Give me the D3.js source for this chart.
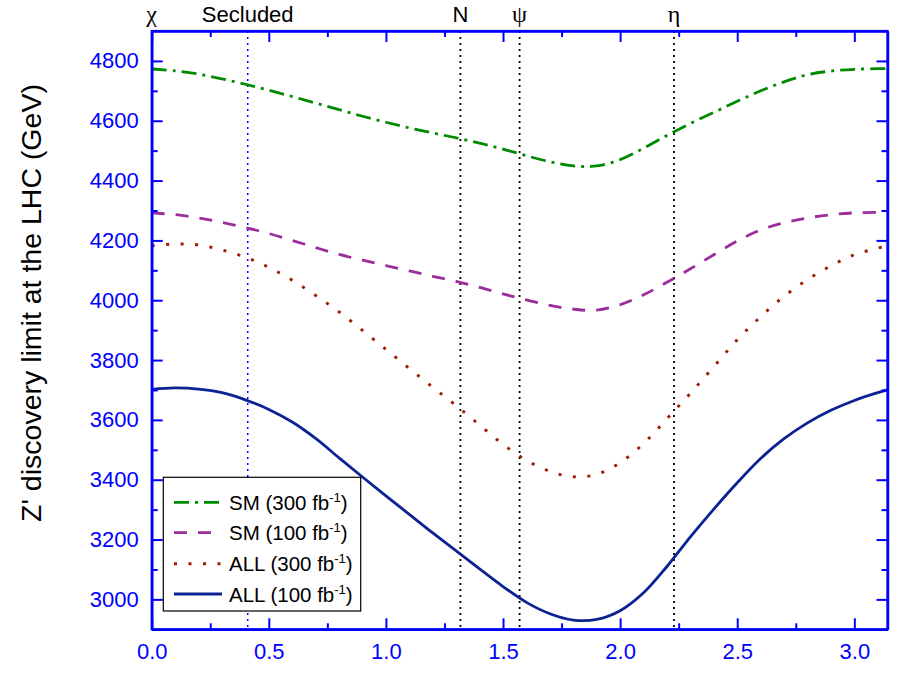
<!DOCTYPE html>
<html>
<head>
<meta charset="utf-8">
<script src="https://cdn.jsdelivr.net/npm/d3@7"></script>
<style>
  html, body { margin: 0; padding: 0; background: #ffffff; }
  svg { display: block; font-family: "Liberation Sans", Arial, Helvetica, sans-serif; }
</style>
</head>
<body>
<svg id="chart" width="909" height="679"></svg>
<script>
// Mixing angle theta (rad) sampled along the E6 family
const theta = [0, 0.1, 0.2, 0.3, 0.4, 0.5, 0.6, 0.7, 0.8, 0.9, 1.0, 1.1, 1.2, 1.3, 1.4, 1.5, 1.6,
               1.7, 1.8, 1.9, 2.0, 2.1, 2.2, 2.3, 2.4, 2.5, 2.6, 2.7, 2.8, 2.9, 3.0, 3.1, 3.14159];

// Discovery reach (GeV) for each scenario
const sm300 = [4773, 4767, 4756, 4740, 4722, 4702, 4681, 4659, 4637, 4615, 4595, 4576, 4559, 4543, 4525, 4505, 4483,
               4463, 4449, 4449, 4470, 4508, 4551, 4591, 4628, 4665, 4700, 4730, 4754, 4766, 4772, 4774, 4774];
const sm100 = [4292, 4286, 4275, 4260, 4243, 4223, 4200, 4176, 4153, 4134, 4116, 4098, 4080, 4063, 4043, 4021, 4001,
               3983, 3970, 3967, 3985, 4018, 4060, 4105, 4152, 4198, 4235, 4259, 4275, 4286, 4292, 4294, 4293];
const all300 = [4182, 4188, 4185, 4168, 4144, 4110, 4067, 4016, 3961, 3899, 3836, 3772, 3709, 3648, 3583, 3518, 3465,
                3428, 3410, 3418, 3457, 3521, 3604, 3689, 3778, 3868, 3945, 4013, 4069, 4115, 4152, 4174, 4182];
const all100 = [3702, 3707, 3703, 3691, 3667, 3635, 3593, 3538, 3473, 3409, 3346, 3284, 3222, 3162, 3102, 3043, 2990,
                2952, 2931, 2933, 2962, 3022, 3110, 3209, 3302, 3390, 3471, 3537, 3590, 3632, 3665, 3691, 3700];

// Named models marked along the top
const modelNames  = ["χ", "Secluded", "N", "ψ", "η"];
const modelAngles = [0, 0.41, 1.318, 1.5708, 2.23];

const xMajor = [0, 0.5, 1.0, 1.5, 2.0, 2.5, 3.0];
const xMinor = [0.25, 0.75, 1.25, 1.75, 2.25, 2.75];
const yMajor = [3000, 3200, 3400, 3600, 3800, 4000, 4200, 4400, 4600, 4800];
const yMinor = [3100, 3300, 3500, 3700, 3900, 4100, 4300, 4500, 4700];

const seriesLabels = ["SM (300 fb", "SM (100 fb", "ALL (300 fb", "ALL (100 fb"];

const series = [
  { label: seriesLabels[0], values: sm300,  color: "#008a00", width: 2.8, dash: "15 6 3 6" },
  { label: seriesLabels[1], values: sm100,  color: "#9b2d9b", width: 2.8, dash: "13 11" },
  { label: seriesLabels[2], values: all300, color: "#9e1a00", width: 2.9, dash: "3 11.5" },
  { label: seriesLabels[3], values: all100, color: "#0b2294", width: 2.8, dash: null }
];

const svg = d3.select("#chart");
const L = 151.7, R = 887.5, T = 31, B = 629.3;
const axisBlue = "#0000ff";

const x = d3.scaleLinear().domain([0, Math.PI]).range([L, R]);
const y = d3.scaleLinear().domain([2900, 4900]).range([B, T]);

svg.append("defs").append("clipPath").attr("id", "plotClip")
  .append("rect").attr("x", L).attr("y", T).attr("width", R - L).attr("height", B - T);

// Vertical markers for the named models
const markers = svg.append("g");
modelAngles.slice(1).forEach((a, i) => {
  markers.append("line")
    .attr("x1", x(a)).attr("x2", x(a))
    .attr("y1", T).attr("y2", B)
    .attr("stroke", i === 0 ? "#0000ff" : "#000000")
    .attr("stroke-width", i === 0 ? 1.5 : 1.8)
    .attr("stroke-dasharray", "2 4");
});

// Curves
const line = d3.line()
  .x((d, i) => x(theta[i]))
  .y(d => y(d))
  .curve(d3.curveCatmullRom.alpha(0.5));

const curves = svg.append("g").attr("clip-path", "url(#plotClip)");
series.forEach(s => {
  curves.append("path")
    .attr("d", line(s.values))
    .attr("fill", "none")
    .attr("stroke", s.color)
    .attr("stroke-width", s.width)
    .attr("stroke-dasharray", s.dash)
    .attr("stroke-linejoin", "round");
});

// Axes: ticks point inwards on all four sides
function styleAxis(g) {
  g.selectAll("path.domain").attr("stroke", axisBlue).attr("stroke-width", 2.2);
  g.selectAll(".tick line").attr("stroke", axisBlue).attr("stroke-width", 2);
  g.selectAll(".tick text").attr("fill", axisBlue)
    .style("font-size", "22px")
    .style("font-family", "'Liberation Sans', Arial, sans-serif");
}

svg.append("g").attr("transform", `translate(0,${B})`)
  .call(d3.axisBottom(x).tickValues(xMajor).tickFormat(d3.format(".1f"))
    .tickSize(-11).tickSizeOuter(0).tickPadding(14))
  .call(styleAxis);
svg.append("g").attr("transform", `translate(0,${B})`)
  .call(d3.axisBottom(x).tickValues(xMinor).tickFormat("").tickSize(-6).tickSizeOuter(0))
  .call(styleAxis);
svg.append("g").attr("transform", `translate(0,${T})`)
  .call(d3.axisTop(x).tickValues(xMajor).tickFormat("").tickSize(-11).tickSizeOuter(0))
  .call(styleAxis);
svg.append("g").attr("transform", `translate(0,${T})`)
  .call(d3.axisTop(x).tickValues(xMinor).tickFormat("").tickSize(-6).tickSizeOuter(0))
  .call(styleAxis);

svg.append("g").attr("transform", `translate(${L},0)`)
  .call(d3.axisLeft(y).tickValues(yMajor).tickFormat(d3.format("d"))
    .tickSize(-11).tickSizeOuter(0).tickPadding(13))
  .call(styleAxis);
svg.append("g").attr("transform", `translate(${L},0)`)
  .call(d3.axisLeft(y).tickValues(yMinor).tickFormat("").tickSize(-6).tickSizeOuter(0))
  .call(styleAxis);
svg.append("g").attr("transform", `translate(${R},0)`)
  .call(d3.axisRight(y).tickValues(yMajor).tickFormat("").tickSize(-11).tickSizeOuter(0))
  .call(styleAxis);
svg.append("g").attr("transform", `translate(${R},0)`)
  .call(d3.axisRight(y).tickValues(yMinor).tickFormat("").tickSize(-6).tickSizeOuter(0))
  .call(styleAxis);

// Closed frame
svg.append("rect")
  .attr("x", L).attr("y", T).attr("width", R - L).attr("height", B - T)
  .attr("fill", "none").attr("stroke", axisBlue).attr("stroke-width", 2.2);

// Model names above the frame
modelNames.forEach((name, i) => {
  const greek = name.length === 1 && name !== "N";
  svg.append("text")
    .attr("x", x(modelAngles[i]))
    .attr("y", 22)
    .attr("text-anchor", "middle")
    .attr("fill", "#000")
    .style("font-size", greek ? "24px" : "22px")
    .style("font-family", greek ? "'Liberation Serif', 'DejaVu Serif', serif" : "'Liberation Sans', Arial, sans-serif")
    .text(name);
});

// Y axis title
svg.append("text")
  .attr("transform", "translate(41,303) rotate(-90)")
  .attr("text-anchor", "middle")
  .attr("fill", "#000")
  .style("font-size", "28.5px")
  .text("Z' discovery limit at the LHC (GeV)");

// Legend
const legend = svg.append("g");
legend.append("rect")
  .attr("x", 163.3).attr("y", 477.3).attr("width", 197.4).attr("height", 133.7)
  .attr("fill", "#fff").attr("stroke", "#000").attr("stroke-width", 1.2);

const rowY = [502.3, 532.7, 563.7, 594];
series.forEach((s, i) => {
  legend.append("line")
    .attr("x1", 174).attr("x2", 222)
    .attr("y1", rowY[i]).attr("y2", rowY[i])
    .attr("stroke", s.color)
    .attr("stroke-width", s.width)
    .attr("stroke-dasharray", s.dash);
  const t = legend.append("text")
    .attr("x", 229).attr("y", rowY[i] + 7.5)
    .attr("fill", "#000")
    .style("font-size", "20.5px");
  t.append("tspan").text(s.label);
  t.append("tspan").attr("dy", -8).style("font-size", "13px").text("-1");
  t.append("tspan").attr("dy", 8).text(")");
});
</script>
</body>
</html>
